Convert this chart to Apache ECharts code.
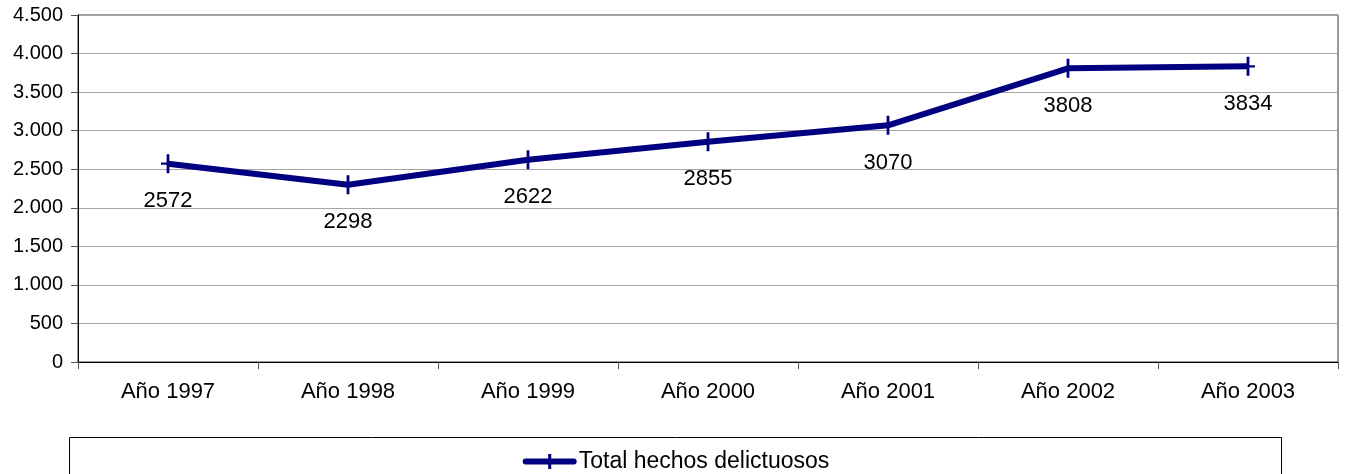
<!DOCTYPE html>
<html><head><meta charset="utf-8">
<script src="https://cdn.jsdelivr.net/npm/echarts@6/dist/echarts.min.js"></script>
<style>html,body{margin:0;padding:0;background:#fff}#c{width:1352px;height:474px}</style>
</head><body><div id="c"></div>
<script>
const categories = ['Año 1997','Año 1998','Año 1999','Año 2000','Año 2001','Año 2002','Año 2003'];
const totalHechos = [2572, 2298, 2622, 2855, 3070, 3808, 3834];
const seriesName = 'Total hechos delictuosos';
const yMin = 0, yMax = 4500, yStep = 500;

const FONT = 'Liberation Sans, Arial, sans-serif';
const chart = echarts.init(document.getElementById('c'), null, {renderer:'canvas'});
chart.setOption({
  backgroundColor:'#fff',
  animation:false,
  textStyle:{fontFamily:FONT},
  grid:{left:78, right:14, top:15, bottom:112, containLabel:false, show:true, borderColor:'#333', borderWidth:1},
  xAxis:{
    type:'category', data:categories, boundaryGap:true,
    axisLine:{lineStyle:{color:'#000', width:1}},
    axisTick:{show:true, length:7, lineStyle:{color:'#555'}},
    axisLabel:{color:'#000', fontSize:22, fontFamily:FONT, margin:19},
    splitLine:{show:false}
  },
  yAxis:{
    type:'value', min:yMin, max:yMax, interval:yStep,
    axisLine:{show:true, lineStyle:{color:'#000', width:1}},
    axisTick:{show:true, length:7, lineStyle:{color:'#555'}},
    axisLabel:{color:'#000', fontSize:20, fontFamily:FONT, margin:15,
      formatter:v=>v.toString().replace(/\B(?=(\d{3})+(?!\d))/g,'.')},
    splitLine:{show:true, lineStyle:{color:'#a6a6a6', width:1}}
  },
  legend:{
    show:true, left:'center', top:445, itemWidth:48, itemHeight:19, itemGap:10,
    textStyle:{color:'#000', fontSize:23, fontFamily:FONT},
    lineStyle:{width:6, cap:'round', color:'#000080'},
    data:[seriesName]
  },
  graphic:[{type:'rect', shape:{x:69.5, y:437.5, width:1212, height:60},
    style:{fill:'none', stroke:'#000', lineWidth:1}, silent:true}],
  series:[{
    name:seriesName, type:'line', data:totalHechos,
    lineStyle:{color:'#000080', width:6},
    itemStyle:{color:'#000080'},
    symbol:'path://M6,0H9V8H15V10H9V18H6V10H0V8H6Z',
    symbolSize:[14,19], showAllSymbol:true,
    label:{show:true, position:'bottom', distance:17, color:'#000', fontSize:22, fontFamily:FONT},
    emphasis:{disabled:true}
  }]
});
</script></body></html>
